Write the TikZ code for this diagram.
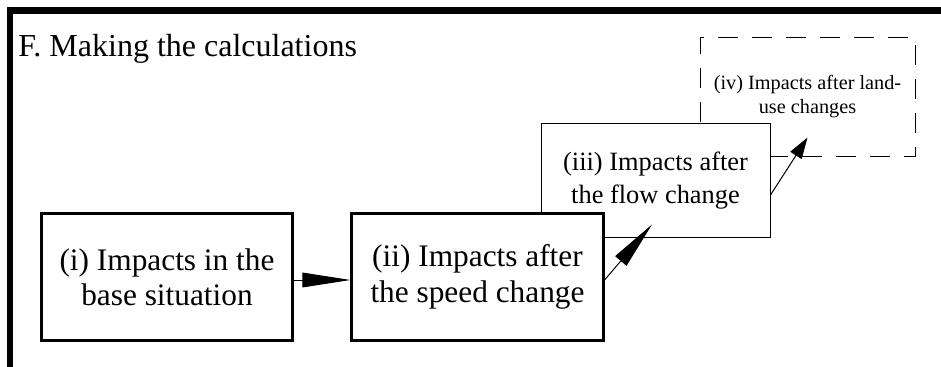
\documentclass[tikz,border=0pt]{standalone}
\usepackage{fontspec}
\setmainfont{Liberation Serif}
\usetikzlibrary{arrows.meta,calc}

\tikzset{
  bigbox/.style={draw, fill=white, line width=2.25pt, align=center,
    inner sep=0pt, font=\fontsize{23.5}{26.5}\selectfont},
  thinbox/.style={draw, fill=white, line width=0.75pt, align=center,
    inner sep=0pt, font=\fontsize{19.8}{24.75}\selectfont},
  dashbox/.style={draw, line width=0.75pt, dash pattern=on 15pt off 10.5pt,
    align=center, inner sep=0pt, font=\fontsize{15.2}{18}\selectfont},
  bighead/.style={line width=0.75pt, -{Triangle[length=36pt,width=11pt]}},
  smallhead/.style={line width=0.75pt, -{Triangle[length=16pt,width=10pt]}}
}

\begin{document}
\begin{tikzpicture}[x=0.75pt, y=-0.75pt]
      \useasboundingbox (0,0) rectangle (941,367);

      % frame
      \fill (7,7) rectangle (941,14);
      \fill (7,7) rectangle (13,367);

      \node[anchor=base west, inner sep=0pt, font=\fontsize{24}{28}\selectfont]
        (title) at (18,57) {F. Making the calculations};

      % boxes, back to front
      \node[dashbox, minimum width=161.25pt, minimum height=88.5pt]
        (landuse) at (807.5,97) {(iv) Impacts after land-\\use changes};
      \node[thinbox, minimum width=171.75pt, minimum height=84.75pt]
        (flow) at (655.5,180.5) {(iii) Impacts after\\the flow change};
      \node[bigbox, minimum width=188.3pt, minimum height=95.6pt]
        (speed) at (477.5,277) {(ii) Impacts after\\the speed change};
      \node[bigbox, minimum width=188.6pt, minimum height=95.6pt]
        (base) at (167,277) {(i) Impacts in the\\base situation};

      % arrows
      \draw[bighead] ([yshift=-2.25pt]base.east) -- ([yshift=-2.25pt]speed.west);
      \draw[bighead] ([yshift=-2.25pt]speed.east) -- ($(flow.south)+(-3.5,-13)$);
      \draw[smallhead] ($(flow.east)+(0,14.5)$) -- ($(landuse.south)+(0,-19)$);

\end{tikzpicture}
\end{document}
